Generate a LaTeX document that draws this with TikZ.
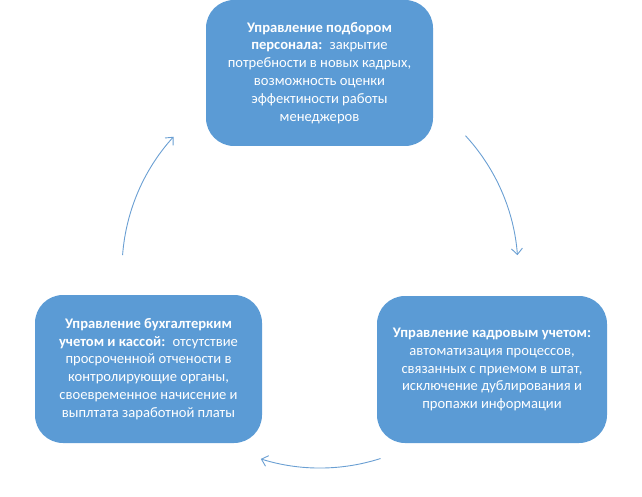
\documentclass[tikz,border=0pt]{standalone}
\usepackage{fontspec}
\setmainfont{Carlito}
\usetikzlibrary{calc,arrows.meta}
\definecolor{boxblue}{HTML}{5B9BD5}
\definecolor{arrblue}{HTML}{6A9FD3}
\tikzset{
  cyclebox/.style={fill=boxblue, draw=none, rounded corners=28pt, text=white,
    align=center, inner sep=4pt,
    font=\fontsize{14.6}{17.9}\selectfont},
  cyclearr/.style={draw=arrblue, line width=0.9pt,
    -{Straight Barb[length=6pt,width=11pt,line width=0.9pt]}}
}
\begin{document}
\begin{tikzpicture}[x=1pt,y=1pt]
\useasboundingbox (0,0) rectangle (642,496);
\node[cyclebox, minimum width=227pt, minimum height=146pt] (top) at (319.5,423)
  {\textbf{Управление подбором}\\
   \textbf{персонала:}\enspace закрытие\\
   потребности в новых кадрых,\\
   возможность оценки\\
   эффектиности работы\\
   менеджеров};
\node[cyclebox, minimum width=227pt, minimum height=148pt] (left) at (148.5,127)
  {\textbf{Управление бухгалтерким}\\
   \textbf{учетом и кассой:}\enspace отсутствие\\
   просроченной отчености в\\
   контролирующие органы,\\
   своевременное начисение и\\
   выплтата заработной платы};
\node[cyclebox, minimum width=230pt, minimum height=147pt] (right) at (492,126.5)
  {\textbf{Управление кадровым учетом:}\\
   автоматизация процессов,\\
   связанных с приемом в штат,\\
   исключение дублирования и\\
   пропажи информации};
\coordinate (ctr) at (320,226);
\coordinate (a1) at ($(ctr)+(42.7:198)$);
\coordinate (a2) at ($(ctr)+(-72.2:198)$);
\coordinate (a3) at ($(ctr)+(175.7:198)$);
\draw[cyclearr] (a1) arc[start angle=42.7, end angle=4.3, radius=198];
\draw[cyclearr] (a2) arc[start angle=-72.2, end angle=-107.4, radius=198];
\draw[cyclearr] (a3) arc[start angle=175.7, end angle=137.7, radius=198];
\end{tikzpicture}
\end{document}
